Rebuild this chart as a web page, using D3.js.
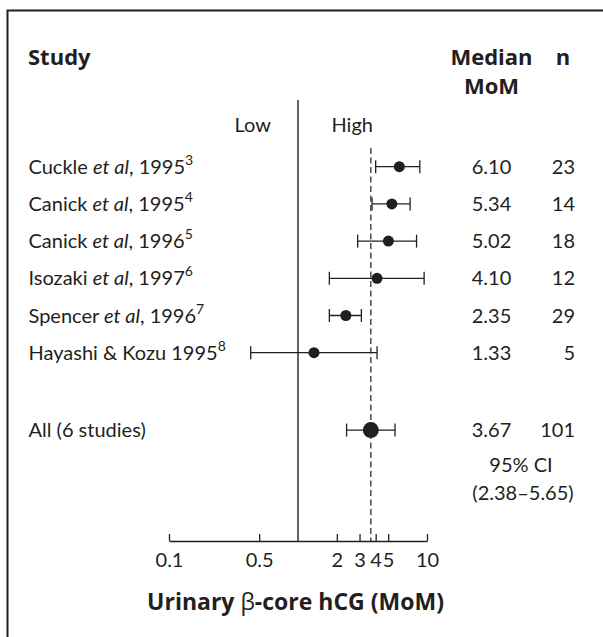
<!DOCTYPE html>
<html>
<head>
<meta charset="utf-8">
<script src="https://cdn.jsdelivr.net/npm/d3@7"></script>
<style>
  html, body { margin: 0; padding: 0; background: #fff; }
  svg { display: block; }
  text { font-family: Lato, "Open Sans", sans-serif; fill: #231f20; }
  text.bold { font-family: "Open Sans", Lato, sans-serif; font-weight: 700; }
</style>
</head>
<body>
<svg id="chart" width="603" height="637"></svg>
<script>
// Study-level medians (MoM) of urinary beta-core hCG with their ranges
const authors = ["Cuckle", "Canick", "Canick", "Isozaki", "Spencer", "Hayashi & Kozu"];
const etAl = [true, true, true, true, true, false];
const years = [1995, 1995, 1996, 1997, 1996, 1995];
const refs = [3, 4, 5, 6, 7, 8];
const medians = [6.10, 5.34, 5.02, 4.10, 2.35, 1.33];
const lows = [4.0, 3.75, 2.9, 1.75, 1.75, 0.43];
const highs = [8.8, 7.4, 8.3, 9.5, 3.1, 4.1];
const ns = [23, 14, 18, 12, 29, 5];

// Pooled estimate
const pooledLabel = "All (6 studies)";
const pooledMedian = 3.67;
const pooledLow = 2.38;
const pooledHigh = 5.65;
const pooledN = 101;

const tickValues = [0.1, 0.5, 2, 3, 4, 5, 10];
const tickLabels = ["0.1", "0.5", "2", "3", "4", "5", "10"];

const ink = "#231f20";
const svg = d3.select("#chart");

// frame
svg.append("rect")
  .attr("x", 7.5).attr("y", 10.5)
  .attr("width", 700).attr("height", 700)
  .attr("fill", "none").attr("stroke", ink).attr("stroke-width", 2);

const x = d3.scaleLog().domain([0.1, 10]).range([169, 427]);
const rowY = d3.scaleLinear().domain([0, 1]).range([166.7, 203.9]);
const axisY = 541;
const pooledRow = authors.length + 1.08;

const medX = 491.5, nX = 575, labelX = 28.5;
const fs = 20;   // body text
const hs = 22;   // bold headers

// headers
svg.append("text").attr("class", "bold").attr("x", labelX - 0.5).attr("y", 65)
  .attr("font-size", hs).text("Study");
svg.append("text").attr("class", "bold").attr("x", medX).attr("y", 65).attr("text-anchor", "middle")
  .attr("font-size", hs).text("Median");
svg.append("text").attr("class", "bold").attr("x", medX).attr("y", 94).attr("text-anchor", "middle")
  .attr("font-size", hs).text("MoM");
svg.append("text").attr("class", "bold").attr("x", 563).attr("y", 65).attr("text-anchor", "middle")
  .attr("font-size", hs).text("n");

// reference lines: no effect (1) and pooled median
svg.append("line")
  .attr("x1", x(1)).attr("x2", x(1)).attr("y1", 100).attr("y2", axisY)
  .attr("stroke", ink).attr("stroke-width", 1.4);
svg.append("line")
  .attr("x1", x(pooledMedian)).attr("x2", x(pooledMedian)).attr("y1", 148).attr("y2", axisY)
  .attr("stroke", ink).attr("stroke-width", 1.2).attr("stroke-dasharray", "6,3.5");

svg.append("text").attr("x", x(1) - 27).attr("y", 132).attr("text-anchor", "end")
  .attr("font-size", fs).text("Low");
svg.append("text").attr("x", x(1) + 33.5).attr("y", 132)
  .attr("font-size", fs).text("High");

// study rows
const rows = authors.map((a, i) => ({
  author: a, etAl: etAl[i], year: years[i], ref: refs[i],
  median: medians[i], low: lows[i], high: highs[i], n: ns[i], y: rowY(i), r: 5.5
}));
rows.push({ author: pooledLabel, pooled: true, median: pooledMedian, low: pooledLow,
  high: pooledHigh, n: pooledN, y: rowY(pooledRow), r: 8 });

const g = svg.append("g").selectAll("g").data(rows).join("g");

g.each(function (d) {
  const sel = d3.select(this);
  const t = sel.append("text").attr("x", labelX).attr("y", d.y + 7).attr("font-size", fs);
  if (d.pooled) {
    t.text(d.author);
  } else {
    if (d.etAl) {
      t.append("tspan").text(d.author + " ");
      t.append("tspan").attr("font-style", "italic").text("et al");
      t.append("tspan").text(", " + d.year);
    } else {
      t.append("tspan").text(d.author + " " + d.year);
    }
    t.append("tspan").attr("font-size", 14).attr("dy", -9).text(d.ref);
  }
  // interval
  sel.append("line").attr("x1", x(d.low)).attr("x2", x(d.high))
    .attr("y1", d.y).attr("y2", d.y).attr("stroke", ink).attr("stroke-width", 1.3);
  [d.low, d.high].forEach(v => {
    sel.append("line").attr("x1", x(v)).attr("x2", x(v))
      .attr("y1", d.y - 6.5).attr("y2", d.y + 6.5).attr("stroke", ink).attr("stroke-width", 1.3);
  });
  sel.append("circle").attr("cx", x(d.median)).attr("cy", d.y).attr("r", d.r).attr("fill", ink);
  // columns
  sel.append("text").attr("x", medX).attr("y", d.y + 7).attr("text-anchor", "middle")
    .attr("font-size", fs).text(d.median.toFixed(2));
  sel.append("text").attr("x", nX).attr("y", d.y + 7).attr("text-anchor", "end")
    .attr("font-size", fs).text(d.n);
});

// pooled confidence interval
const ciY = rowY(pooledRow);
svg.append("text").attr("x", 521).attr("y", ciY + 42).attr("text-anchor", "middle")
  .attr("font-size", fs).text("95% CI");
svg.append("text").attr("x", 523).attr("y", ciY + 70).attr("text-anchor", "middle")
  .attr("font-size", fs).text("(" + pooledLow.toFixed(2) + "\u2013" + pooledHigh.toFixed(2) + ")");

// x axis
const axis = d3.axisBottom(x).tickValues(tickValues)
  .tickFormat((d, i) => tickLabels[i]).tickSizeInner(-7).tickSizeOuter(0);
const ax = svg.append("g").attr("transform", `translate(0,${axisY})`).call(axis);
ax.select(".domain").attr("stroke", ink).attr("stroke-width", 1.4);
ax.selectAll(".tick line").attr("stroke", ink).attr("stroke-width", 1.3);
ax.selectAll(".tick text").attr("y", 25.5).attr("dy", null)
  .attr("font-size", fs).attr("fill", ink)
  .style("font-family", "Lato, 'Open Sans', sans-serif");

// axis title
const title = svg.append("text").attr("class", "bold").attr("x", 295.5).attr("y", 610)
  .attr("text-anchor", "middle").attr("font-size", 23);
title.append("tspan").text("Urinary ");
title.append("tspan").attr("font-weight", 400).text("\u03b2");
title.append("tspan").text("-core hCG (MoM)");
</script>
</body>
</html>
